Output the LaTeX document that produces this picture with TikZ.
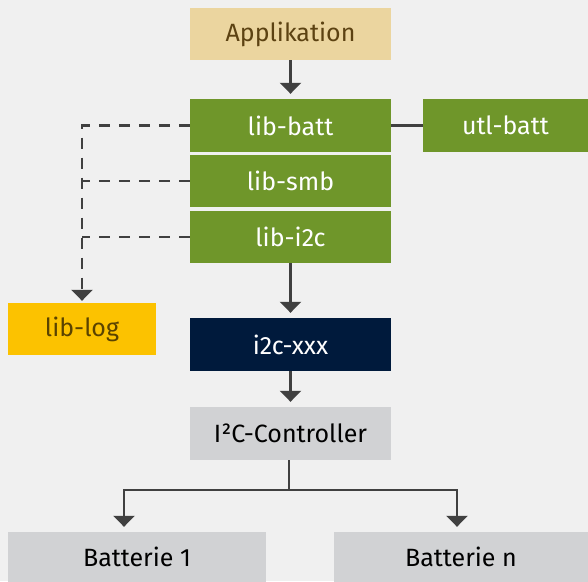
\documentclass[tikz,border=0pt]{standalone}
\usepackage{fontspec}
\setmainfont{Fira Sans}
\usepackage{xcolor}
\usetikzlibrary{arrows.meta}
\definecolor{bgc}{HTML}{F0F0F0}
\definecolor{appc}{HTML}{EBD59F}
\definecolor{apptxt}{HTML}{5C4212}
\definecolor{libc}{HTML}{6F962A}
\definecolor{logc}{HTML}{FCC200}
\definecolor{logtxt}{HTML}{5A4300}
\definecolor{drvc}{HTML}{001A3C}
\definecolor{hwc}{HTML}{D1D2D4}
\definecolor{linec}{HTML}{404040}
\tikzset{
  box/.style={rectangle,inner sep=0pt,minimum height=53pt,font=\fontsize{25}{28}\selectfont},
  app/.style={box,fill=appc,text=apptxt,minimum width=201pt},
  lib/.style={box,fill=libc,text=white,minimum width=201pt},
  drv/.style={box,fill=drvc,text=white,minimum width=201pt},
  hw/.style={box,fill=hwc,text=black},
  conn/.style={line width=2.3pt,draw=linec,-{Triangle[width=21pt,length=11pt]},shorten >=5pt},
  plain/.style={line width=2.3pt,draw=linec},
  dep/.style={line width=2.3pt,draw=linec,dash pattern=on 11pt off 9pt},
}

\begin{document}
\begin{tikzpicture}[x=1pt,y=-1pt]
  \fill[bgc] (0,0) rectangle (588,581);
  \useasboundingbox (0,0) rectangle (588,581);
  % software stack
  \node[app,minimum height=52pt] (app) at (290.5,34) {Applikation};
  \node[lib] (batt) at (290.5,125.5) {lib-batt};
  \node[lib,minimum height=52pt] (smb) at (290.5,181) {lib-smb};
  \node[lib,minimum height=52pt] (i2c) at (290.5,237) {lib-i2c};
  \node[lib,minimum width=165pt] (utl) at (505.5,125.5) {utl-batt};
  \node[box,fill=logc,text=logtxt,minimum width=148pt,minimum height=52pt] (log) at (82,329) {lib-log};
  \node[drv] (xxx) at (290.5,344.5) {i2c-xxx};
  % hardware
  \node[hw,minimum width=201pt] (ctrl) at (290.5,433.5) {I²C-Controller};
  \node[hw,minimum width=258pt,minimum height=50pt] (b1) at (137,557) {Batterie 1};
  \node[hw,minimum width=254pt,minimum height=50pt] (bn) at (461,557) {Batterie n};
  \coordinate (split) at (289,490);

  \draw[conn] (app) -- (batt);
  \draw[plain] (batt) -- (utl);
  \draw[dep,-{Triangle[width=21pt,length=11pt]},shorten >=2pt]
    (batt.west) -| (log.north);
  \draw[dep] (smb.west) -- (smb.west -| log.north);
  \draw[dep] (i2c.west) -- (i2c.west -| log.north);
  \draw[conn] (i2c) -- (xxx);
  \draw[conn] (xxx) -- (ctrl);
  \draw[plain] (ctrl.south -| split) -- (split);
  \draw[conn] (split) -| ([xshift=-13pt]b1.north);
  \draw[conn] (split) -| ([xshift=-4pt]bn.north);
\end{tikzpicture}
\end{document}
